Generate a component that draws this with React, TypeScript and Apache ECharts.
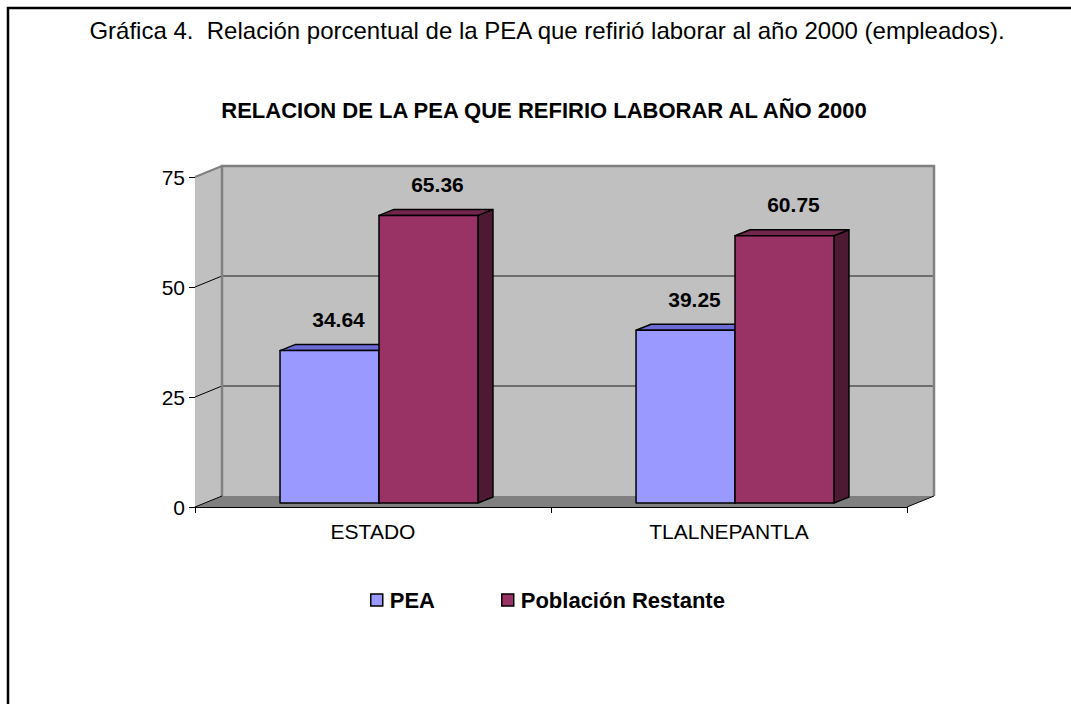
import React, { useEffect, useRef } from "react";
import * as echarts from "echarts";

const categories = ["ESTADO", "TLALNEPANTLA"];
const peaValues = [34.64, 39.25];
const restanteValues = [65.36, 60.75];
const seriesNames = ["PEA", "Población Restante"];
const gridTicks = [25, 50, 75];
const mainTitle = "Gráfica 4.  Relación porcentual de la PEA que refirió laborar al año 2000 (empleados).";
const chartTitle = "RELACION DE LA PEA QUE REFIRIO LABORAR AL AÑO 2000";

const FRONT = ["#9999ff", "#993366"];
const TOPC = ["#6b6bd6", "#73264d"];
const SIDEC = ["#5c5cb0", "#4d1933"];

const WALL_DX = 27;
const WALL_DY = -11;
const BAR_DX = 15;
const BAR_DY = -6;
const FONT = "'Liberation Sans', Arial, sans-serif";

function wallsRenderItem(params: any, api: any) {
  const cs = params.coordSys;
  const x0 = cs.x, y0 = cs.y, w = cs.width, h = cs.height;
  const children: any[] = [];
  children.push({
    type: "rect",
    shape: { x: x0 + WALL_DX, y: y0 + WALL_DY, width: w, height: h },
    style: { fill: "#c0c0c0" },
  });
  children.push({
    type: "polygon",
    shape: { points: [[x0, y0], [x0 + WALL_DX, y0 + WALL_DY], [x0 + WALL_DX, y0 + h + WALL_DY], [x0, y0 + h]] },
    style: { fill: "#c0c0c0" },
  });
  children.push({
    type: "polygon",
    shape: { points: [[x0, y0 + h], [x0 + w, y0 + h], [x0 + w + WALL_DX, y0 + h + WALL_DY], [x0 + WALL_DX, y0 + h + WALL_DY]] },
    style: { fill: "#808080" },
  });
  gridTicks.forEach((v) => {
    const y = api.coord([0, v])[1];
    if (v < 75) {
      children.push({
        type: "line",
        shape: { x1: x0 + WALL_DX, y1: y + WALL_DY, x2: x0 + w + WALL_DX, y2: y + WALL_DY },
        style: { stroke: "#6e6e6e", lineWidth: 2 },
      });
    }
    children.push({
      type: "line",
      shape: { x1: x0, y1: y, x2: x0 + WALL_DX, y2: y + WALL_DY },
      style: { stroke: v === 75 ? "#808080" : "#000", lineWidth: v === 75 ? 2 : 1 },
    });
  });
  children.push({
    type: "polyline",
    shape: { points: [[x0 + WALL_DX, y0 + h + WALL_DY], [x0 + WALL_DX, y0 + WALL_DY], [x0 + w + WALL_DX, y0 + WALL_DY], [x0 + w + WALL_DX, y0 + h + WALL_DY]] },
    style: { stroke: "#808080", lineWidth: 2.5, fill: "none" },
  });
  children.push({
    type: "line",
    shape: { x1: x0 + w, y1: y0 + h, x2: x0 + w + WALL_DX, y2: y0 + h + WALL_DY },
    style: { stroke: "#000", lineWidth: 1 },
  });
  children.push({
    type: "line",
    shape: { x1: x0, y1: y0 + h, x2: x0 + WALL_DX, y2: y0 + h + WALL_DY },
    style: { stroke: "#000", lineWidth: 1 },
  });
  return { type: "group", children };
}

function makeBarRenderer(s: number) {
  return function (params: any, api: any) {
    const cat = api.value(0);
    const v = api.value(1);
    const base = api.coord([cat, 0]);
    const topPt = api.coord([cat, v]);
    const band = api.size([1, 0])[0];
    const bw = band * 0.278;
    const bx0 = base[0] + 6 - bw + s * bw;
    const baseY = base[1] - 4;
    const topY = topPt[1] - 4;
    const stroke = { stroke: "#000", lineWidth: 1.5, lineJoin: "round" };
    return {
      type: "group",
      children: [
        {
          type: "polygon",
          shape: { points: [[bx0 + bw, topY], [bx0 + bw + BAR_DX, topY + BAR_DY], [bx0 + bw + BAR_DX, baseY + BAR_DY], [bx0 + bw, baseY]] },
          style: { fill: SIDEC[s], ...stroke },
        },
        {
          type: "polygon",
          shape: { points: [[bx0, topY], [bx0 + bw, topY], [bx0 + bw + BAR_DX, topY + BAR_DY], [bx0 + BAR_DX, topY + BAR_DY]] },
          style: { fill: TOPC[s], ...stroke },
        },
        {
          type: "rect",
          shape: { x: bx0, y: topY, width: bw, height: baseY - topY },
          style: { fill: FRONT[s], ...stroke },
        },
        {
          type: "text",
          style: {
            text: v.toFixed(2),
            x: bx0 + bw / 2 + 9,
            y: topY - 31,
            align: "center",
            verticalAlign: "middle",
            fill: "#000",
            font: `bold 21px ${FONT}`,
          },
        },
      ],
    };
  };
}

export default function App() {
  const ref = useRef<HTMLDivElement>(null);
  useEffect(() => {
    if (!ref.current) return;
    const chart = echarts.init(ref.current, null, { renderer: "svg" });
    const option: any = {
      animation: false,
      backgroundColor: "#ffffff",
      graphic: [
        {
          type: "rect",
          shape: { x: 8, y: 8, width: 1200, height: 900 },
          style: { fill: "none", stroke: "#000", lineWidth: 2.5 },
          z: 100,
        },
        {
          type: "text",
          x: 547,
          y: 30,
          style: { text: mainTitle, align: "center", verticalAlign: "middle", fill: "#000", font: `24px ${FONT}` },
        },
        {
          type: "text",
          x: 544,
          y: 110,
          style: { text: chartTitle, align: "center", verticalAlign: "middle", fill: "#000", font: `bold 22px ${FONT}` },
        },
      ],
      legend: {
        data: seriesNames,
        left: 370,
        top: 589,
        padding: 0,
        itemWidth: 12,
        itemHeight: 12,
        itemGap: 66,
        icon: "rect",
        itemStyle: { borderColor: "#000", borderWidth: 1.5 },
        textStyle: { fontFamily: FONT, fontWeight: "bold", fontSize: 22, color: "#000", padding: [0, 0, 0, 2] },
      },
      grid: { left: 195, right: 164, top: 177, bottom: 197 },
      xAxis: {
        type: "category",
        data: categories,
        axisLine: { lineStyle: { color: "#000", width: 1 } },
        axisTick: { show: true, length: 6, lineStyle: { color: "#000" } },
        axisLabel: { color: "#000", fontFamily: FONT, fontSize: 21, margin: 14 },
        splitLine: { show: false },
      },
      yAxis: {
        type: "value",
        min: 0,
        max: 75,
        interval: 25,
        axisLine: { show: true, lineStyle: { color: "#000", width: 1 } },
        axisTick: { show: true, length: 6, lineStyle: { color: "#000" } },
        axisLabel: { color: "#000", fontFamily: FONT, fontSize: 21, margin: 10 },
        splitLine: { show: false },
      },
      series: [
        {
          type: "custom",
          name: "walls",
          renderItem: wallsRenderItem,
          data: [[0, 0]],
          silent: true,
          z: 1,
        },
        {
          type: "custom",
          name: seriesNames[0],
          itemStyle: { color: FRONT[0] },
          renderItem: makeBarRenderer(0),
          data: categories.map((_, i) => [i, peaValues[i]]),
          z: 3,
        },
        {
          type: "custom",
          name: seriesNames[1],
          itemStyle: { color: FRONT[1] },
          renderItem: makeBarRenderer(1),
          data: categories.map((_, i) => [i, restanteValues[i]]),
          z: 4,
        },
      ],
    };
    chart.setOption(option);
    return () => chart.dispose();
  }, []);
  return (
    <div
      ref={ref}
      style={{ position: "fixed", left: 0, top: 0, width: 1071, height: 704 }}
    />
  );
}
